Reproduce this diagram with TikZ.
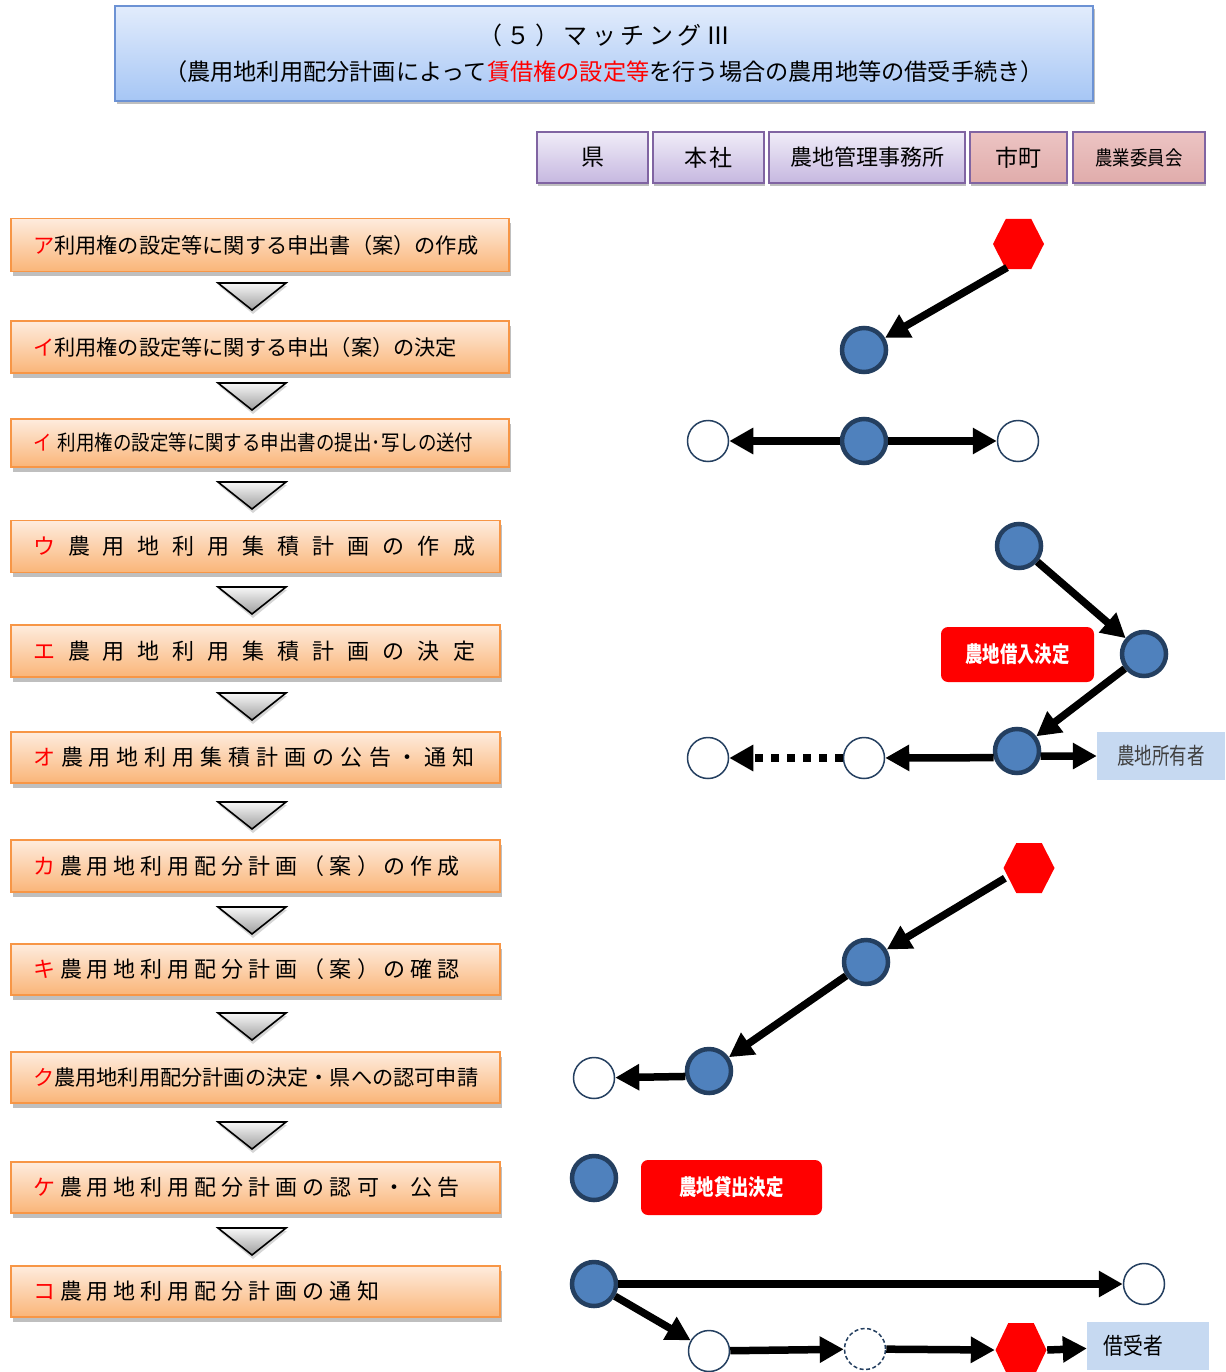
\documentclass[tikz,border=0pt]{standalone}
\usepackage{fontspec}
\setmainfont{Noto Sans CJK JP}
\usepackage{graphicx}
\usetikzlibrary{arrows.meta,shadows,calc}

\definecolor{stepborder}{RGB}{247,150,70}
\definecolor{steptop}{RGB}{254,236,222}
\definecolor{stepbot}{RGB}{250,181,120}
\definecolor{titletop}{RGB}{226,236,252}
\definecolor{titlebot}{RGB}{166,198,245}
\definecolor{titleborder}{RGB}{108,146,212}
\definecolor{hdrtop}{RGB}{240,236,248}
\definecolor{hdrbot}{RGB}{198,184,224}
\definecolor{hdrborder}{RGB}{128,100,162}
\definecolor{pinktop}{RGB}{236,196,195}
\definecolor{pinkbot}{RGB}{224,172,171}
\definecolor{bluefill}{RGB}{79,129,189}
\definecolor{blueline}{RGB}{36,63,96}
\definecolor{lightblue}{RGB}{198,217,241}

\def\spc#1#2{\def\spcgap{\kern#1}#2\spcA}
\def\spcA#1{\ifx#1\relax\else\spcgap#1\expandafter\spcA\fi}
\newcommand\kana[1]{\textcolor{red}{#1}}
\newcommand\redhex[4]{%
  \node[hexa] (#1) at (#2,#3) {};
  \fill[red] (#2-25.5,#3) -- (#2-12.75,#3-#4/2) -- (#2+12.75,#3-#4/2) -- (#2+25.5,#3)
    -- (#2+12.75,#3+#4/2) -- (#2-12.75,#3+#4/2) -- cycle;}

\tikzset{
  stepbox/.style={draw=stepborder, line width=1.6pt, top color=steptop, bottom color=stepbot,
    inner xsep=22pt, inner ysep=0pt, align=left, font=\fontsize{22}{26}\selectfont,
    drop shadow={shadow xshift=1.5pt, shadow yshift=-4.5pt, opacity=0.45, fill=black!55}},
  longstep/.style={stepbox, text width=454pt},
  shortstep/.style={stepbox, text width=445pt},
  titlebox/.style={draw=titleborder, line width=1.5pt, top color=titletop, bottom color=titlebot,
    inner sep=0, drop shadow={shadow xshift=2pt, shadow yshift=-3pt, opacity=0.5, fill=black!50}},
  hdrbox/.style={draw=hdrborder, line width=1.4pt, top color=hdrtop, bottom color=hdrbot,
    minimum height=51pt, inner sep=0, font=\fontsize{23}{23}\selectfont,
    drop shadow={shadow xshift=1pt, shadow yshift=-3.5pt, opacity=0.45, fill=black!55}},
  pinkbox/.style={hdrbox, top color=pinktop, bottom color=pinkbot},
  bdot/.style={circle, draw=blueline, fill=bluefill, line width=4.5pt, minimum size=44pt, inner sep=0},
  odot/.style={circle, draw=blueline, fill=white, line width=1.5pt, minimum size=41pt, inner sep=0},
  ddot/.style={odot, dash pattern=on 4pt off 2.5pt},
  hexa/.style={circle, minimum size=52pt, inner sep=0},
  flow/.style={line width=7.5pt, -{Triangle[length=24pt,width=25pt]}},
  redlab/.style={fill=red, rounded corners=7pt, text=white, inner sep=0,
    font=\bfseries\fontsize{22}{22}\selectfont},
  bluelab/.style={fill=lightblue, inner sep=0, font=\fontsize{23}{23}\selectfont},
  downtri/.style={top color=black!3, bottom color=black!38, draw=black, line width=1.6pt, line join=miter}
}

\begin{document}
\begin{tikzpicture}[x=1pt, y=-1pt]
\useasboundingbox (0,0) rectangle (1225,1372);
\fill[white] (0,0) rectangle (1225,1372);

% title
\node[titlebox, minimum width=978pt, minimum height=95pt, align=center,
  font=\fontsize{23.2}{36}\selectfont] (title) at (604,53.5)
  {{\fontsize{24}{36}\selectfont\spc{4.5pt}（５）マッチングⅢ\relax}\\
   （農用地利用配分計画によって\textcolor{red}{賃借権の設定等}を行う場合の農用地等の借受手続き）};

% headers
\node[hdrbox, minimum width=111pt] (ken) at (592.5,157.5) {県};
\node[hdrbox, minimum width=111pt] (honsha) at (708.5,157.5) {本\kern2pt社};
\node[hdrbox, minimum width=196pt, font=\fontsize{22}{22}\selectfont] (kanri) at (867,157.5) {農地管理事務所};
\node[pinkbox, minimum width=97pt] (shicho) at (1018.5,157.5) {市町};
\node[pinkbox, minimum width=132pt] (iinkai) at (1139,157.5) {\scalebox{0.87}[1]{\fontsize{20}{20}\selectfont 農業委員会}};

% steps
\node[longstep, minimum height=53pt, font=\fontsize{21.2}{26}\selectfont] (s1) at (260,245)
  {\kana{ア}利用権の設定等に関する申出書（案）の作成};
\node[longstep, minimum height=52pt, font=\fontsize{21.2}{26}\selectfont] (s2) at (260,347)
  {\kana{イ}利用権の設定等に関する申出（案）の決定};
\node[longstep, minimum height=48pt] (s3) at (260,443)
  {\scalebox{0.88}[1]{\fontsize{21}{21}\selectfont\kana{イ}\kern7pt 利用権の設定等に関する申出書の提出･写しの送付}};
\node[shortstep, minimum height=52pt] (s4) at (255.5,546.5)
  {\kana{ウ}\kern13pt\spc{13pt}農用地利用集積計画の作成\relax};
\node[shortstep, minimum height=52pt] (s5) at (255.5,651)
  {\kana{エ}\kern13pt\spc{13pt}農用地利用集積計画の決定\relax};
\node[shortstep, minimum height=51pt] (s6) at (255.5,757.5)
  {\kana{オ}\kern6pt\spc{6pt}農用地利用集積計画の公告・通知\relax};
\node[shortstep, minimum height=52pt] (s7) at (255.5,866)
  {\kana{カ}\kern5pt\spc{5pt}農用地利用配分計画（案）の作成\relax};
\node[shortstep, minimum height=51pt] (s8) at (255.5,969.5)
  {\kana{キ}\kern5pt\spc{5pt}農用地利用配分計画（案）の確認\relax};
\node[shortstep, minimum height=51pt, font=\fontsize{21.2}{26}\selectfont] (s9) at (255.5,1077.5)
  {\kana{ク}農用地利用配分計画の決定・県への認可申請};
\node[shortstep, minimum height=51pt] (s10) at (255.5,1187.5)
  {\kana{ケ}\kern5pt\spc{5pt}農用地利用配分計画の認可・公告\relax};
\node[shortstep, minimum height=51pt] (s11) at (255.5,1291.5)
  {\kana{コ}\kern5pt\spc{5pt}農用地利用配分計画の通知\relax};

% down triangles
\foreach \ty in {283,383,482,587,693,802,907,1013,1122,1228} {
  \fill[black!45, opacity=0.35] (219,\ty+3) -- (287,\ty+3) -- (253,\ty+31) -- cycle;
  \shade[downtri] (218,\ty) -- (286,\ty) -- (252,\ty+27) -- cycle;
}

% right side diagram
\redhex{h1}{1018.5}{244}{50}
\node[bdot] (b1) at (864,350) {};
\node[bdot] (b2) at (864,441) {};
\node[odot] (o1) at (708,441) {};
\node[odot] (o2) at (1018,441) {};
\node[bdot] (b3) at (1019,546) {};
\node[bdot] (b4) at (1144,654) {};
\node[bdot] (b5) at (1017,751) {};
\node[odot] (o3) at (864,758) {};
\node[odot] (o4) at (708,758) {};
\node[redlab, minimum width=153pt, minimum height=55pt] (lab1) at (1017.5,654.5) {\scalebox{0.79}[1]{農地借入決定}};
\node[bluelab, minimum width=128pt, minimum height=48pt, text=black!75] (owner) at (1161,756) {\scalebox{0.76}[1]{農地所有者}};

\redhex{h2}{1029}{868}{50}
\node[bdot] (b6) at (866,962) {};
\node[bdot] (b7) at (709,1071) {};
\node[odot] (o5) at (594,1078) {};

\node[bdot] (b8) at (594,1178) {};
\node[redlab, minimum width=181pt, minimum height=55pt] (lab2) at (731.5,1187.5) {\scalebox{0.79}[1]{農地貸出決定}};

\node[bdot] (b9) at (594,1284) {};
\node[odot] (o6) at (1144,1284) {};
\node[odot] (o7) at (709,1351) {};
\node[ddot] (od) at (865,1349) {};
\redhex{h3}{1021}{1350}{54}
\node[bluelab, minimum width=122pt, minimum height=48pt] (borrower) at (1148,1346) {\scalebox{0.86}[1]{借受者}\kern29pt};

% connectors
\draw[flow] (h1.-116) -- (b1);
\draw[flow] (b2) -- (o1);
\draw[flow] (b2) -- (o2);
\draw[flow] (b3) -- (b4);
\draw[flow] (b4) -- (b5);
\draw[flow] (b5.196) -- (o3);
\draw[flow] (b5.-12) -- (owner);
\draw[flow, dash pattern=on 8pt off 8pt] (o3) -- (o4);
\draw[flow] (h2.-157) -- (b6);
\draw[flow] (b6) -- (b7);
\draw[flow] (b7.193) -- (o5);
\draw[flow] (b9) -- (o6);
\draw[flow] (b9) -- (o7);
\draw[flow] (o7) -- (od);
\draw[flow] (od) -- (h3.west);
\draw[flow] (h3.east) -- (borrower);
\end{tikzpicture}
\end{document}
